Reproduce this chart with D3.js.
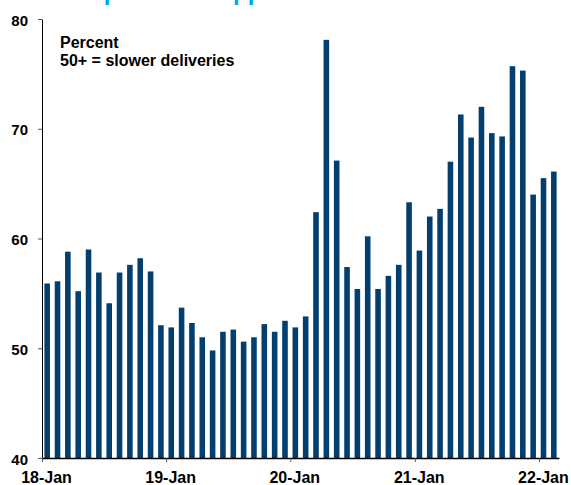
<!DOCTYPE html>
<html>
<head>
<meta charset="utf-8">
<script src="https://cdnjs.cloudflare.com/ajax/libs/d3/7.8.5/d3.min.js"></script>
<style>
  html, body { margin: 0; padding: 0; background: #fff; }
  svg { display: block; }
  text { font-family: "Liberation Sans", Arial, sans-serif; font-weight: bold; }
</style>
</head>
<body>
<svg id="chart" width="571" height="485"></svg>
<script>
'use strict';

// monthly readings, Jan 2018 .. Feb 2022
var startMonth = new Date(2018, 0, 1);
var values = [
  55.9, 56.1, 58.8, 55.2, 59.0, 56.9, 54.1, 56.9, 57.6, 58.2, 57.0, 52.1,
  51.9, 53.7, 52.3, 51.0, 49.8, 51.5, 51.7, 50.6, 51.0, 52.2, 51.5, 52.5,
  51.9, 52.9, 62.4, 78.1, 67.1, 57.4, 55.4, 60.2, 55.4, 56.6, 57.6, 63.3,
  58.9, 62.0, 62.7, 67.0, 71.3, 69.2, 72.0, 69.6, 69.3, 75.7, 75.3, 64.0,
  65.5, 66.1
];
var yTicks = [40, 50, 60, 70, 80];
var xTickYears = [2018, 2019, 2020, 2021, 2022];
var noteLines = ['Percent', '50+ = slower deliveries'];
var titleHead = 'COVID Impacts to Su';
var titleText = 'COVID Impacts to Supplier Deliveries';

var endMonth = new Date(startMonth.getFullYear(), startMonth.getMonth() + values.length, 1);

var svg = d3.select('#chart');
var plotLeft = 42, plotRight = 559, plotTop = 19, plotBottom = 458;

var x = d3.scaleBand()
  .domain(d3.range(values.length))
  .range([plotLeft, plotRight])
  .paddingInner(0.46)
  .paddingOuter(0.23);

var xTime = d3.scaleTime()
  .domain([startMonth, endMonth])
  .range([plotLeft, plotRight]);

var y = d3.scaleLinear()
  .domain([40, 80])
  .range([plotBottom, plotTop]);

// title sits above the frame, only its lowest pixels show
var title = svg.append('text')
  .attr('y', 0)
  .style('font-size', '24px')
  .style('fill', '#00a9e6')
  .text(titleHead);
var headWidth = title.node().getComputedTextLength();
title.attr('x', 233 - headWidth).text(titleText);

svg.append('g')
  .selectAll('rect')
  .data(values)
  .enter().append('rect')
    .attr('x', function(d, i){ return x(i); })
    .attr('y', function(d){ return y(d); })
    .attr('width', x.bandwidth())
    .attr('height', function(d){ return y(40) - y(d); })
    .attr('fill', '#033f6e');

// y axis
var yAxis = svg.append('g')
  .attr('transform', 'translate(' + plotLeft + ',0)')
  .call(d3.axisLeft(y).tickValues(yTicks).tickSize(4).tickPadding(10).tickSizeOuter(0));
yAxis.select('.domain').attr('stroke', '#000');
yAxis.selectAll('.tick line').attr('stroke', '#555');
yAxis.selectAll('.tick text')
  .style('font-size', '15px')
  .attr('fill', '#000')
  .attr('dy', '0.4em');

// x axis
var xAxis = svg.append('g')
  .attr('transform', 'translate(0,' + plotBottom + ')')
  .call(d3.axisBottom(xTime)
    .tickValues(xTickYears.map(function(yr){ return new Date(yr, 0, 1); }))
    .tickFormat(d3.timeFormat('%y-%b'))
    .tickSize(4).tickPadding(10).tickSizeOuter(0));
xAxis.select('.domain').attr('stroke', '#000').attr('stroke-width', 1.3);
xAxis.selectAll('.tick line').attr('stroke', '#555');
xAxis.selectAll('.tick text')
  .style('font-size', '16px')
  .attr('fill', '#000')
  .attr('dx', 4);

// note
svg.append('g')
  .selectAll('text')
  .data(noteLines)
  .enter().append('text')
    .attr('x', 60)
    .attr('y', function(d, i){ return 48 + i * 18; })
    .style('font-size', '16px')
    .text(function(d){ return d; });
</script>
</body>
</html>
